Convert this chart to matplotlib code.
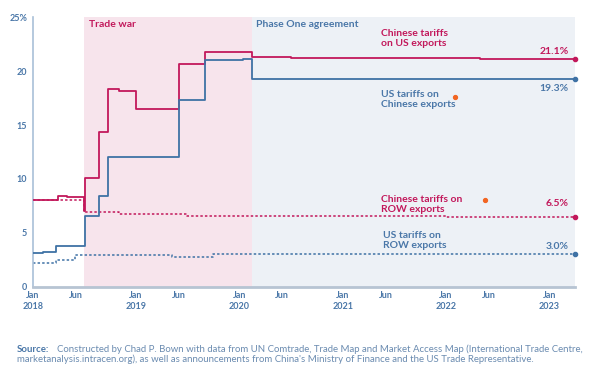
import pandas as pd
import matplotlib.pyplot as plt

plt.rcParams['font.family'] = ['Lato', 'DejaVu Sans']

# Chinese tariffs on US exports (solid crimson)
cn_us_dates = ['2018-01-01', '2018-04-02', '2018-05-01', '2018-07-01', '2018-07-06',
               '2018-08-23', '2018-09-24', '2018-11-01', '2019-01-01', '2019-06-01',
               '2019-09-01', '2020-02-14', '2020-07-01', '2022-05-01', '2023-04-01']
cn_us_vals = [8.0, 8.4, 8.3, 7.0, 10.1, 14.4, 18.3, 18.2, 16.5, 20.7, 21.8, 21.3, 21.2, 21.1, 21.1]

# US tariffs on Chinese exports (solid blue)
us_cn_dates = ['2018-01-01', '2018-02-07', '2018-03-23', '2018-07-06', '2018-08-23',
               '2018-09-24', '2019-06-01', '2019-09-01', '2020-01-15', '2020-02-14', '2023-04-01']
us_cn_vals = [3.1, 3.2, 3.8, 6.6, 8.4, 12.0, 17.3, 21.0, 21.1, 19.3, 19.3]

# Chinese tariffs on ROW exports (dotted crimson)
cn_row_dates = ['2018-01-01', '2018-07-01', '2018-11-01', '2019-07-01', '2022-01-01',
                '2023-01-01', '2023-04-01']
cn_row_vals = [8.0, 6.9, 6.7, 6.6, 6.5, 6.45, 6.45]

# US tariffs on ROW exports (dotted blue)
us_row_dates = ['2018-01-01', '2018-03-23', '2018-06-01', '2019-05-10', '2019-10-01', '2023-04-01']
us_row_vals = [2.2, 2.5, 2.9, 2.8, 3.0, 3.0]

# stray orange points in the original
odd_dates = ['2022-02-01', '2022-05-20']
odd_vals = [17.6, 8.0]

red = '#c2185b'
blue = '#3f72a5'
txt_blue = '#4a77a8'

fig = plt.figure(figsize=(5.92, 3.75), dpi=100)
ax = fig.add_axes([0.0552, 0.2355, 0.9156, 0.7184])

start = pd.Timestamp('2018-01-01')
end = pd.Timestamp('2023-04-01')
tw_start = pd.Timestamp('2018-07-01')
p1_start = pd.Timestamp('2020-02-14')

ax.axvspan(tw_start, p1_start, color='#f7e4ec', lw=0, zorder=0)
ax.axvspan(p1_start, end, color='#edf1f6', lw=0, zorder=0)

ax.step(pd.to_datetime(cn_us_dates), cn_us_vals, where='post', color=red, lw=1.3, zorder=3)
ax.step(pd.to_datetime(us_cn_dates), us_cn_vals, where='post', color=blue, lw=1.3, zorder=3)
ax.step(pd.to_datetime(cn_row_dates), cn_row_vals, where='post', color=red, lw=1.1,
        ls=(0, (1.6, 1.4)), zorder=2)
ax.step(pd.to_datetime(us_row_dates), us_row_vals, where='post', color=blue, lw=1.1,
        ls=(0, (1.6, 1.4)), zorder=2)

# end markers
ax.plot([end], [cn_us_vals[-1]], 'o', color=red, ms=3, zorder=4, clip_on=False)
ax.plot([end], [us_cn_vals[-1]], 'o', color=blue, ms=3, zorder=4, clip_on=False)
ax.plot([end], [6.5], 'o', color=red, ms=3, zorder=4, clip_on=False)
ax.plot([end], [us_row_vals[-1]], 'o', color=blue, ms=3, zorder=4, clip_on=False)
ax.plot(pd.to_datetime(odd_dates), odd_vals, 'o', color='#f26522', ms=2.8, zorder=4)

ax.set_xlim(start, end)
ax.set_ylim(0, 25)

# ticks
ax.set_yticks([0, 5, 10, 15, 20, 25])
ax.set_yticklabels(['0', '5', '10', '15', '20', '25%'])
xt = []
xl = []
for yr in range(2018, 2024):
    xt.append(pd.Timestamp(f'{yr}-01-01'))
    xl.append(f'Jan\n{yr}')
    if yr < 2023:
        xt.append(pd.Timestamp(f'{yr}-06-01'))
        xl.append('Jun')
ax.set_xticks(xt)
ax.set_xticklabels(xl)
ax.tick_params(length=0, labelsize=6.5, labelcolor=txt_blue)
ax.tick_params(axis='y', pad=4)
ax.tick_params(axis='x', pad=3)
for lab in ax.get_xticklabels() + ax.get_yticklabels():
    lab.set_fontweight('bold')
for lab in ax.get_xticklabels():
    lab.set_linespacing(1.3)

for s in ['top', 'right']:
    ax.spines[s].set_visible(False)
ax.spines['left'].set_color('#a9c0d8')
ax.spines['left'].set_linewidth(1.2)
ax.spines['bottom'].set_color('#b7c4d3')
ax.spines['bottom'].set_linewidth(2)

# annotations
tx = pd.Timestamp('2021-05-15')
fs = 7.5
ax.text(pd.Timestamp('2018-07-20'), 24.3, 'Trade war', color=red, fontsize=fs, fontweight='bold', va='center')
ax.text(pd.Timestamp('2020-03-01'), 24.3, 'Phase One agreement', color=txt_blue, fontsize=fs,
        fontweight='bold', va='center')
ax.text(tx, 23.0, 'Chinese tariffs\non US exports', color=red, fontsize=fs, fontweight='bold',
        va='center', linespacing=1.15)
ax.text(tx, 17.4, 'US tariffs on\nChinese exports', color=txt_blue, fontsize=fs, fontweight='bold',
        va='center', linespacing=1.15)
ax.text(tx, 7.6, 'Chinese tariffs on\nROW exports', color=red, fontsize=fs, fontweight='bold',
        va='center', linespacing=1.15)
ax.text(pd.Timestamp('2021-05-25'), 4.3, 'US tariffs on\nROW exports', color=txt_blue, fontsize=fs,
        fontweight='bold', va='center', linespacing=1.15)

lx = pd.Timestamp('2023-03-10')
ax.text(lx, 21.85, '21.1%', color=red, fontsize=fs, fontweight='bold', ha='right', va='center')
ax.text(lx, 18.4, '19.3%', color=txt_blue, fontsize=fs, fontweight='bold', ha='right', va='center')
ax.text(lx, 7.75, '6.5%', color=red, fontsize=fs, fontweight='bold', ha='right', va='center')
ax.text(lx, 3.75, '3.0%', color=txt_blue, fontsize=fs, fontweight='bold', ha='right', va='center')

# source note
src_col = '#6a8bb0'
fig.text(0.029, 0.068, 'Source:', color=txt_blue, fontsize=6.9, fontweight='bold', va='center')
fig.text(0.096, 0.068, 'Constructed by Chad P. Bown with data from UN Comtrade, Trade Map and Market Access Map '
         '(International Trade Centre,', color=src_col, fontsize=6.9, va='center')
fig.text(0.029, 0.042, "marketanalysis.intracen.org), as well as announcements from China's Ministry of Finance "
         "and the US Trade Representative.", color=src_col, fontsize=6.9, va='center')

fig.savefig('out.png', dpi=100)
